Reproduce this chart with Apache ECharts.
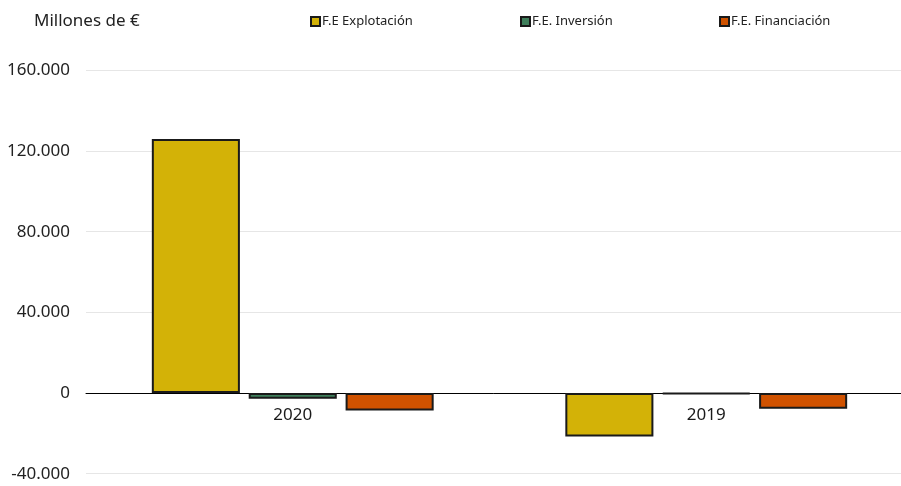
<!DOCTYPE html>
<html>
<head>
<meta charset="utf-8">
<script src="https://cdn.jsdelivr.net/npm/echarts@6/dist/echarts.min.js"></script>
<style>
  html, body { margin: 0; padding: 0; background: #fff; }
  #chart { width: 901px; height: 486px; }
</style>
</head>
<body>
<div id="chart"></div>
<script>
// Datos (millones de €)
var anios = ['2020', '2019'];
var explotacion = [126000, -21500];
var inversion = [-2900, -500];
var financiacion = [-8700, -7800];
var yTicks = [-40000, 0, 40000, 80000, 120000, 160000];

var categorias = [
    { nombre: 'F.E Explotación', color: '#D3B207', datos: explotacion, left: 305 },
    { nombre: 'F.E. Inversión', color: '#3F7F5B', datos: inversion, left: 515 },
    { nombre: 'F.E. Financiación', color: '#D05200', datos: financiacion, left: 714 }
];

function formatoMiles(v) {
    var s = Math.abs(v).toString().replace(/\B(?=(\d{3})+(?!\d))/g, '.');
    return (v < 0 ? '-' : '') + s;
}

var chart = echarts.init(document.getElementById('chart'));

var series = categorias.map(function (cat) {
    return {
        name: cat.nombre,
        type: 'bar',
        barWidth: '21.3%',
        barGap: '10%',
        data: cat.datos,
        itemStyle: { color: cat.color, borderColor: '#1a1a1a', borderWidth: 2 }
    };
});

// etiquetas de los años justo debajo de la línea del cero
series.push({
    name: 'anios',
    type: 'scatter',
    symbolSize: 0,
    silent: true,
    data: anios.map(function () { return 0; }),
    itemStyle: { opacity: 1 },
    label: {
        show: true,
        position: 'bottom',
        distance: 14,
        formatter: '{b}',
        color: '#1a1a1a',
        fontSize: 17,
        fontFamily: 'Noto Sans'
    },
    z: 10
});

// una leyenda por serie para colocarlas como en el original
var legends = categorias.map(function (cat) {
    return {
        data: [cat.nombre],
        left: cat.left,
        top: 10,
        icon: 'rect',
        itemWidth: 9,
        itemHeight: 9,
        itemGap: 0,
        textStyle: { color: '#222', fontSize: 13, fontFamily: 'Noto Sans', padding: [0, 0, 0, -3] }
    };
});

var option = {
    animation: false,
    title: {
        text: 'Millones de €',
        left: 29,
        top: 8,
        textStyle: { color: '#222', fontSize: 17, fontWeight: 'normal', fontFamily: 'Noto Sans' }
    },
    legend: legends,
    grid: { left: 86, right: -12, top: 70.3, bottom: 12.3, containLabel: false, outerBoundsMode: 'none' },
    xAxis: {
        type: 'category',
        data: anios,
        axisLine: { onZero: true, lineStyle: { color: '#000', width: 1 } },
        axisTick: { show: false },
        axisLabel: { show: false }
    },
    yAxis: {
        type: 'value',
        min: yTicks[0],
        max: yTicks[yTicks.length - 1],
        interval: 40000,
        axisLine: { show: false },
        axisTick: { show: false },
        splitLine: { lineStyle: { color: '#e6e6e6', width: 1 } },
        axisLabel: {
            color: '#222',
            fontSize: 17,
            fontFamily: 'Noto Sans',
            margin: 16,
            formatter: formatoMiles
        }
    },
    series: series
};

chart.setOption(option);
</script>
</body>
</html>
